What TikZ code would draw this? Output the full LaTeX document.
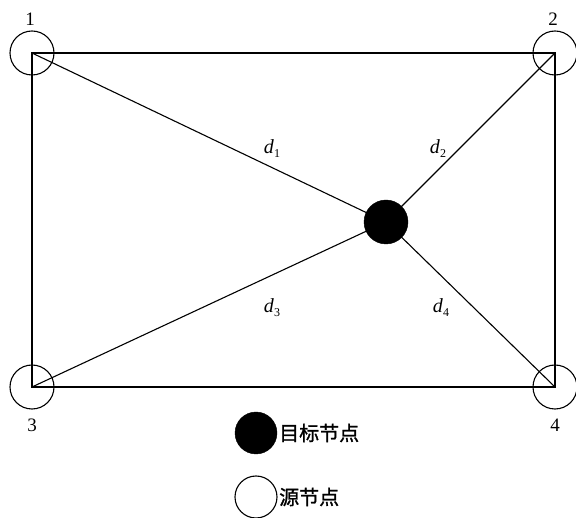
\documentclass[tikz,border=0pt]{standalone}
\usepackage{fontspec}
\setmainfont{Liberation Serif}
\newfontfamily\cjk{Noto Sans CJK SC}[FakeBold=1.2]
\newcommand{\dsub}[1]{\textit{d}\kern0.3pt\raisebox{-4pt}{\fontsize{12}{13}\selectfont #1}}
\begin{document}
\begin{tikzpicture}[x=1pt,y=-1pt,
  src/.style={circle,draw,line width=1.1pt,minimum size=44pt,inner sep=0pt},
  tgt/.style={circle,fill=black,draw=black,minimum size=44pt,inner sep=0pt},
  lnk/.style={line width=1.1pt},
  lbl/.style={font=\fontsize{19}{21}\selectfont,inner sep=0pt},
  dl/.style={font=\fontsize{20}{22}\selectfont,inner sep=0pt},
  leg/.style={font=\fontsize{20}{22}\selectfont\cjk,inner sep=0pt,anchor=west}]
\useasboundingbox (0,0) rectangle (576,518);
\coordinate (c1) at (32,53);
\coordinate (c2) at (555,53);
\coordinate (c3) at (32,387);
\coordinate (c4) at (555,387);
\coordinate (ct) at (386,222);
\draw[lnk] (c1) -- (c2) -- (c4) -- (c3) -- cycle;
\draw[lnk] (c1) -- (ct);
\draw[lnk] (c2) -- (ct);
\draw[lnk] (c3) -- (ct);
\draw[lnk] (c4) -- (ct);
\node[src] (n1) at (c1) {};
\node[src] (n2) at (c2) {};
\node[src] (n3) at (c3) {};
\node[src] (n4) at (c4) {};
\node[tgt] (t) at (ct) {};
\node[lbl] (l1) at (30,19) {1};
\node[lbl] (l2) at (553,19) {2};
\node[lbl] (l3) at (32,425) {3};
\node[lbl] (l4) at (555,425) {4};
\node[dl] (d1) at (272,149) {\dsub{1}};
\node[dl] (d2) at (438,149) {\dsub{2}};
\node[dl] (d3) at (272,308) {\dsub{3}};
\node[dl] (d4) at (441,308) {\dsub{4}};
\node[tgt,minimum size=42pt] (lt) at (256,433) {};
\node[leg] (lt1) at (279,433) {目标节点};
\node[src,minimum size=42pt] (ls) at (256,497) {};
\node[leg] (ls1) at (279,497) {源节点};
\end{tikzpicture}
\end{document}
